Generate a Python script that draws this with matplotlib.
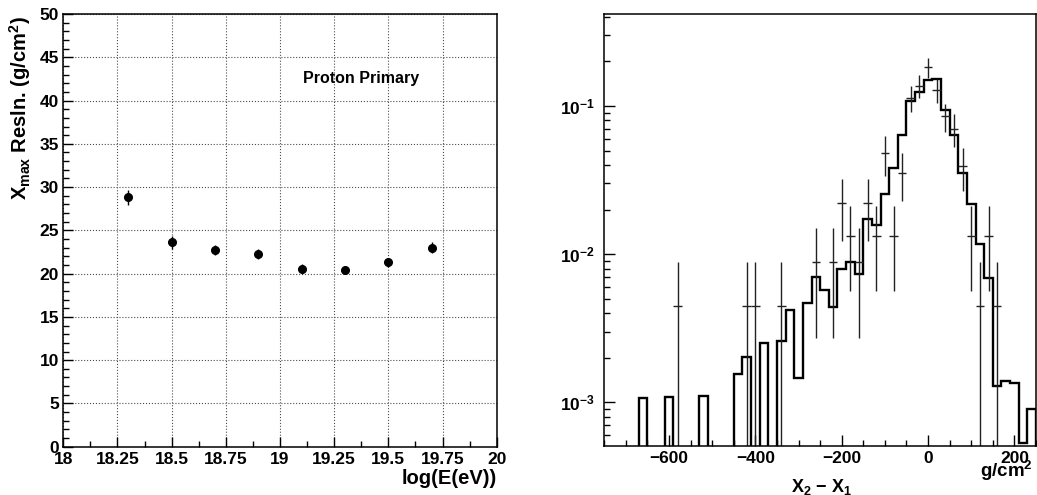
import numpy as np
import matplotlib
matplotlib.use('Agg')
import matplotlib.pyplot as plt
from matplotlib.ticker import MultipleLocator, FuncFormatter, LogLocator, NullFormatter

plt.rcParams['font.family'] = ['Liberation Sans', 'DejaVu Sans']
plt.rcParams['font.weight'] = 'bold'
plt.rcParams['mathtext.fontset'] = 'custom'
plt.rcParams['mathtext.rm'] = 'Liberation Sans:bold'
plt.rcParams['mathtext.it'] = 'Liberation Sans:bold'
plt.rcParams['mathtext.bf'] = 'Liberation Sans:bold'

# left panel: Xmax resolution vs log energy
log_e = [18.3, 18.5, 18.7, 18.9, 19.1, 19.3, 19.5, 19.7]
resln = [28.8, 23.6, 22.7, 22.3, 20.5, 20.4, 21.3, 23.0]
resln_err = [0.85, 0.7, 0.6, 0.6, 0.6, 0.45, 0.55, 0.65]

# right panel: X2 - X1 distribution (MC histogram, data points)
bin_edges = np.arange(-750, 251, 20)
mc_frac = [0, 0, 0, 0, 1.07e-3, 0, 0, 1.09e-3, 0, 0,
           0, 1.11e-3, 0, 0, 0, 1.55e-3, 2.01e-3, 0, 2.50e-3, 0,
           2.61e-3, 4.20e-3, 1.47e-3, 4.71e-3, 6.98e-3, 5.75e-3, 4.42e-3, 7.90e-3, 8.80e-3, 7.40e-3,
           1.72e-2, 1.58e-2, 2.55e-2, 3.84e-2, 6.42e-2, 0.1086, 0.124, 0.1497, 0.153, 0.0945,
           0.0642, 0.0352, 0.0218, 0.0118, 6.95e-3, 1.29e-3, 1.40e-3, 1.34e-3, 5.3e-4, 8.97e-4]
data_x = [-580, -420, -400, -340, -260, -220, -200, -180, -160, -140, -120, -100, -80,
          -60, -40, -20, 0, 20, 40, 60, 80, 100, 120, 140, 160]
data_frac = [4.45e-3, 4.45e-3, 4.45e-3, 4.45e-3, 8.9e-3, 8.9e-3, 2.23e-2, 1.33e-2, 8.9e-3,
             2.23e-2, 1.33e-2, 4.84e-2, 1.33e-2, 3.55e-2, 0.113, 0.137, 0.182, 0.128,
             0.085, 0.0705, 0.0396, 1.33e-2, 4.45e-3, 1.33e-2, 4.45e-3]
data_err = [4.4e-3, 4.4e-3, 4.4e-3, 4.4e-3, 6.2e-3, 6.2e-3, 1.0e-2, 7.7e-3, 6.2e-3,
            1.0e-2, 7.7e-3, 1.45e-2, 7.7e-3, 1.25e-2, 0.0225, 0.0245, 0.028, 0.0235,
            0.0185, 0.0175, 0.0128, 7.7e-3, 4.4e-3, 7.7e-3, 4.4e-3]

W, H = 1037, 495
fig = plt.figure(figsize=(W / 100, H / 100), dpi=100)

tick_fs = 12.5

# ---- left panel
ax1 = fig.add_axes([63.3 / W, 1 - 446.7 / H, 433.4 / W, 432.7 / H])
ax1.errorbar(log_e, resln, yerr=resln_err, fmt='o', color='k', ms=5.5,
             elinewidth=1.0, capsize=0)
ax1.set_xlim(18, 20)
ax1.set_ylim(0, 50)
ax1.xaxis.set_major_locator(MultipleLocator(0.25))
ax1.xaxis.set_minor_locator(MultipleLocator(0.125))
ax1.yaxis.set_major_locator(MultipleLocator(5))
ax1.yaxis.set_minor_locator(MultipleLocator(1))
ax1.xaxis.set_major_formatter(FuncFormatter(lambda v, p: '%g' % v))
ax1.grid(True, which='major', ls=':', color='0.3', lw=0.8)
ax1.tick_params(which='both', direction='in', labelsize=tick_fs, width=1.0)
ax1.tick_params(which='major', length=7)
ax1.tick_params(which='minor', length=4)
ax1.tick_params(axis='x', pad=3.5)
ax1.tick_params(axis='y', pad=3)
for s in ax1.spines.values():
    s.set_linewidth(1.1)
ax1.text(0.553, 0.852, 'Proton Primary', transform=ax1.transAxes,
         fontsize=11.5, ha='left', va='center')
fig.text(20 / W, 1 - 16 / H, r'X$_{\rm max}$ Resln. (g/cm$^{2}$)', rotation=90,
         ha='center', va='top', fontsize=14.5)
fig.text(497 / W, 1 - 479 / H, 'log(E(eV))', ha='right', va='center', fontsize=14.5)

# ---- right panel
ax2 = fig.add_axes([604.3 / W, 1 - 446 / H, 431.7 / W, 432 / H])
ax2.set_yscale('log', nonpositive='clip')
mc_plot = np.where(np.array(mc_frac) > 0, mc_frac, 1e-6)
ax2.stairs(mc_plot, bin_edges, baseline=1e-6, color='k', lw=1.7)
lo = np.minimum(data_err, np.array(data_frac) * 0.999)
ax2.errorbar(data_x, data_frac, yerr=[lo, data_err], xerr=10, fmt='none',
             ecolor='#222222', elinewidth=1.0, capsize=0)
ax2.set_xlim(-750, 250)
ax2.set_ylim(5.07e-4, 0.418)
ax2.xaxis.set_major_locator(MultipleLocator(200))
ax2.xaxis.set_minor_locator(MultipleLocator(50))
ax2.yaxis.set_major_locator(LogLocator(base=10))
ax2.yaxis.set_minor_locator(LogLocator(base=10, subs=np.arange(2, 10)))
ax2.yaxis.set_minor_formatter(NullFormatter())
ax2.tick_params(which='both', direction='in', labelsize=tick_fs, width=1.0)
ax2.tick_params(which='major', length=8)
ax2.tick_params(which='minor', length=4)
ax2.tick_params(axis='x', pad=3.5)
ax2.tick_params(axis='y', pad=7)
for s in ax2.spines.values():
    s.set_linewidth(1.1)
fig.text(822 / W, 1 - 487 / H, r'X$_{2}$ $-$ X$_{1}$', ha='center', va='center', fontsize=13)
fig.text(1033 / W, 1 - 471 / H, r'g/cm$^{2}$', ha='right', va='center', fontsize=13.5)

fig.savefig('out.png', dpi=100)
